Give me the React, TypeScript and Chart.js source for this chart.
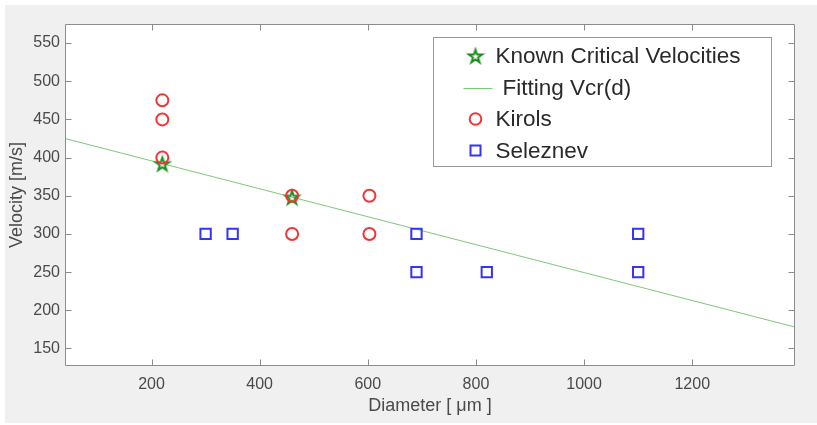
import React, { useEffect, useRef } from "react";
import { Chart, registerables } from "chart.js";

Chart.register(...registerables);

// Measured critical velocities and the straight-line fit through them
const knownD = [220, 460];
const knownV = [392, 348];
const fitD = [40, 1390];
const fitV = [425, 178];

// Literature data sets
const kirolsD = [220, 220, 220, 460, 460, 603, 603];
const kirolsV = [475, 450, 400, 350, 300, 350, 300];
const seleznevD = [300, 350, 690, 690, 820, 1100, 1100];
const seleznevV = [300, 300, 300, 250, 250, 300, 250];

// Axes
const xTicks = [200, 400, 600, 800, 1000, 1200];
const yTicks = [150, 200, 250, 300, 350, 400, 450, 500, 550];
const xRange = [40, 1390];
const yRange = [127, 575];
const xTitle = "Diameter [ μm ]";
const yTitle = "Velocity [m/s]";
const legendLabels = ["Known Critical Velocities", "Fitting Vcr(d)", "Kirols", "Seleznev"];

const GREEN = "#1e8c1e";
const FIT = "#7cc87c";
const RED = "#f23434";
const BLUE = "#3434f5";
const AXIS = "#8c8c8c";
const TEXT = "#4a4a4a";
const FONT = "'Liberation Sans', Arial, Helvetica, sans-serif";

const pts = (xs: number[], ys: number[]) => xs.map((x, i) => ({ x, y: ys[i] }));

// Five-pointed star outline used as the marker for the known velocities
function makeStar(color: string, R: number, lw: number): HTMLCanvasElement {
  const size = Math.ceil(2 * R + lw * 2 + 2);
  const c = document.createElement("canvas");
  c.width = size;
  c.height = size;
  const g = c.getContext("2d")!;
  const cx = size / 2;
  const cy = size / 2 + R * 0.1;
  const r = R * 0.382;
  g.beginPath();
  for (let i = 0; i < 10; i++) {
    const rad = i % 2 === 0 ? R : r;
    const ang = -Math.PI / 2 + (i * Math.PI) / 5;
    const px = cx + rad * Math.cos(ang);
    const py = cy + rad * Math.sin(ang);
    if (i === 0) g.moveTo(px, py);
    else g.lineTo(px, py);
  }
  g.closePath();
  g.strokeStyle = color;
  g.lineWidth = lw;
  g.lineJoin = "miter";
  g.stroke();
  return c;
}

export default function App() {
  const ref = useRef<HTMLCanvasElement | null>(null);

  useEffect(() => {
    const canvas = ref.current;
    if (!canvas) return;
    const star = makeStar(GREEN, 7, 2);

    const framePlugin = {
      id: "frame",
      beforeDraw(chart: any) {
        const { ctx, chartArea: a } = chart;
        ctx.save();
        ctx.fillStyle = "#ffffff";
        ctx.fillRect(0, 0, chart.width, chart.height);
        ctx.fillStyle = "#eff0ef";
        ctx.fillRect(5, 5, chart.width - 5, chart.height - 7);
        ctx.fillStyle = "#ffffff";
        ctx.fillRect(a.left, a.top, a.right - a.left, a.bottom - a.top);
        ctx.restore();
      },
      afterDatasetsDraw(chart: any) {
        const { ctx, chartArea: a, scales } = chart;
        const L = Math.round(a.left) + 0.5;
        const R = Math.round(a.right) - 0.5;
        const T = Math.round(a.top) + 0.5;
        const B = Math.round(a.bottom) - 0.5;
        ctx.save();
        ctx.strokeStyle = AXIS;
        ctx.lineWidth = 1;
        ctx.beginPath();
        ctx.rect(L, T, R - L, B - T);
        const tl = 6;
        xTicks.forEach((v) => {
          const px = Math.round(scales.x.getPixelForValue(v)) + 0.5;
          ctx.moveTo(px, B);
          ctx.lineTo(px, B - tl);
          ctx.moveTo(px, T);
          ctx.lineTo(px, T + tl);
        });
        yTicks.forEach((v) => {
          const py = Math.round(scales.y.getPixelForValue(v)) + 0.5;
          ctx.moveTo(L, py);
          ctx.lineTo(L + tl, py);
          ctx.moveTo(R, py);
          ctx.lineTo(R - tl, py);
        });
        ctx.stroke();
        ctx.restore();
      },
      afterDraw(chart: any) {
        const { ctx, chartArea: a } = chart;
        ctx.save();
        // axis titles
        ctx.fillStyle = TEXT;
        ctx.font = `18px ${FONT}`;
        ctx.textAlign = "center";
        ctx.textBaseline = "middle";
        ctx.fillText(xTitle, (a.left + a.right) / 2, 406);
        ctx.translate(17, (a.top + a.bottom) / 2);
        ctx.rotate(-Math.PI / 2);
        ctx.fillText(yTitle, 0, 0);
        ctx.restore();

        // legend box
        const bw = 338;
        const bh = 129;
        const bx = Math.round(a.right - 24 - bw) + 0.5;
        const by = Math.round(a.top + 13) + 0.5;
        ctx.save();
        ctx.fillStyle = "#ffffff";
        ctx.fillRect(bx, by, bw, bh);
        ctx.strokeStyle = "#999999";
        ctx.lineWidth = 1;
        ctx.strokeRect(bx, by, bw, bh);
        ctx.font = `22.5px ${FONT}`;
        ctx.textAlign = "left";
        ctx.textBaseline = "middle";
        ctx.fillStyle = "#2a2a2a";
        const mx = bx + 42;
        const rows = [by + 18.5, by + 50, by + 81.5, by + 113];
        // Known Critical Velocities
        ctx.drawImage(star, mx - star.width / 2, rows[0] - star.height / 2);
        ctx.fillText(legendLabels[0], bx + 62, rows[0] + 1);
        // Fitting line
        ctx.strokeStyle = FIT;
        ctx.lineWidth = 1;
        ctx.beginPath();
        ctx.moveTo(bx + 30, Math.round(rows[1]) + 0.5);
        ctx.lineTo(bx + 59, Math.round(rows[1]) + 0.5);
        ctx.stroke();
        ctx.fillText(legendLabels[1], bx + 69, rows[1] + 1);
        // Kirols
        ctx.strokeStyle = RED;
        ctx.lineWidth = 2;
        ctx.beginPath();
        ctx.arc(mx, rows[2], 5.8, 0, Math.PI * 2);
        ctx.stroke();
        ctx.fillText(legendLabels[2], bx + 62, rows[2] + 1);
        // Seleznev
        ctx.strokeStyle = BLUE;
        ctx.lineWidth = 2;
        ctx.strokeRect(mx - 5, rows[3] - 5, 10, 10);
        ctx.fillText(legendLabels[3], bx + 62, rows[3] + 1);
        ctx.restore();
      },
    };

    const tickFont = { family: FONT, size: 16 };

    const chart = new Chart(canvas, {
      type: "scatter",
      data: {
        datasets: [
          {
            label: legendLabels[0],
            data: pts(knownD, knownV),
            pointStyle: star as any,
            pointRadius: 7,
            order: 3,
          },
          {
            type: "line",
            label: legendLabels[1],
            data: pts(fitD, fitV),
            borderColor: FIT,
            borderWidth: 1,
            pointRadius: 0,
            fill: false,
            showLine: true,
            order: 4,
          },
          {
            label: legendLabels[2],
            data: pts(kirolsD, kirolsV),
            pointStyle: "circle",
            pointRadius: 6,
            borderColor: RED,
            backgroundColor: "rgba(0,0,0,0)",
            borderWidth: 2,
            order: 2,
          },
          {
            label: legendLabels[3],
            data: pts(seleznevD, seleznevV),
            pointStyle: "rect",
            pointRadius: 7.3,
            borderColor: BLUE,
            backgroundColor: "rgba(0,0,0,0)",
            borderWidth: 2,
            order: 1,
          },
        ],
      } as any,
      options: {
        responsive: false,
        animation: false,
        events: [],
        layout: { padding: { left: 0, top: 24, right: 22, bottom: 0 } },
        plugins: {
          legend: { display: false },
          tooltip: { enabled: false },
        },
        scales: {
          x: {
            type: "linear",
            min: xRange[0],
            max: xRange[1],
            grid: { display: false, drawTicks: false },
            border: { display: false },
            afterBuildTicks: (s: any) => {
              s.ticks = xTicks.map((v) => ({ value: v }));
            },
            afterFit: (s: any) => {
              s.height = 59;
            },
            ticks: {
              font: tickFont,
              color: TEXT,
              padding: 9,
              maxRotation: 0,
              autoSkip: false,
              callback: (v: any) => String(v),
            },
          },
          y: {
            type: "linear",
            min: yRange[0],
            max: yRange[1],
            grid: { display: false, drawTicks: false },
            border: { display: false },
            afterBuildTicks: (s: any) => {
              s.ticks = yTicks.map((v) => ({ value: v }));
            },
            afterFit: (s: any) => {
              s.width = 65;
            },
            ticks: {
              font: tickFont,
              color: TEXT,
              padding: 5,
              autoSkip: false,
              callback: (v: any) => String(v),
            },
          },
        },
      } as any,
      plugins: [framePlugin],
    });

    return () => chart.destroy();
  }, []);

  return (
    <div style={{ position: "fixed", left: 0, top: 0, width: 817, height: 425 }}>
      <canvas ref={ref} width={817} height={425} style={{ display: "block" }} />
    </div>
  );
}
